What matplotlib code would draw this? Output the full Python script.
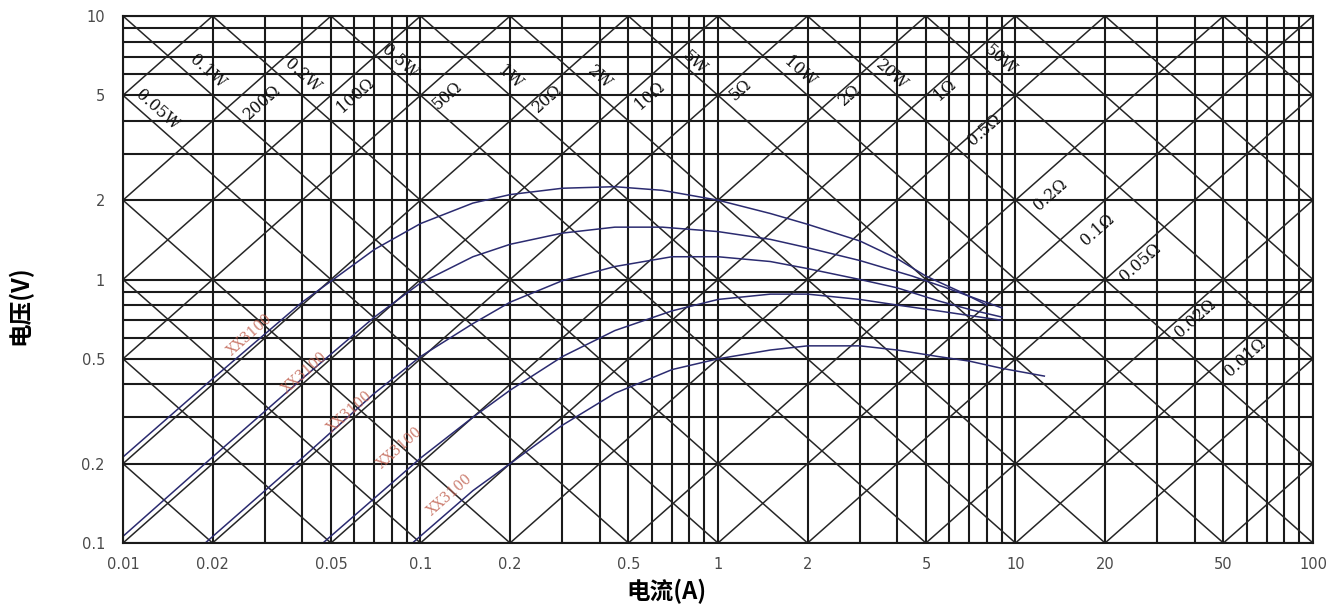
import numpy as np
import matplotlib.pyplot as plt
from matplotlib.ticker import LogLocator, NullFormatter, FixedLocator, FixedFormatter

plt.rcParams['font.family'] = ['Noto Sans CJK SC', 'DejaVu Sans']

# axis ticks
x_ticks = [0.01, 0.02, 0.05, 0.1, 0.2, 0.5, 1, 2, 5, 10, 20, 50, 100]
x_tick_labels = ['0.01', '0.02', '0.05', '0.1', '0.2', '0.5', '1', '2', '5', '10', '20', '50', '100']
y_ticks = [0.1, 0.2, 0.5, 1, 2, 5, 10]
y_tick_labels = ['0.1', '0.2', '0.5', '1', '2', '5', '10']

# constant resistance (V = R*I) and constant power (V = P/I) guide lines
r_values = [0.001, 0.002, 0.005, 0.01, 0.02, 0.05, 0.1, 0.2, 0.5, 1, 2, 5,
            10, 20, 50, 100, 200, 500, 1000]
p_values = [0.001, 0.002, 0.005, 0.01, 0.02, 0.05, 0.1, 0.2, 0.5, 1, 2, 5,
            10, 20, 50, 100, 200, 500, 1000]

# guide line labels (position in A / V)
p_labels = ['0.05W', '0.1W', '0.2W', '0.5W', '1W', '2W', '5W', '10W', '20W', '50W']
p_label_i = [0.0131, 0.0192, 0.0403, 0.0853, 0.200, 0.401, 0.837, 1.89, 3.85, 8.87]
p_label_v = [4.40, 6.13, 5.97, 6.69, 5.82, 5.82, 6.69, 6.13, 5.97, 6.81]

r_labels = ['200Ω', '100Ω', '50Ω', '20Ω', '10Ω', '5Ω', '2Ω', '1Ω', '0.5Ω',
            '0.2Ω', '0.1Ω', '0.05Ω', '0.02Ω', '0.01Ω']
r_label_i = [0.0295, 0.0602, 0.1228, 0.268, 0.591, 1.186, 2.78, 5.79, 7.89,
             13.06, 18.8, 26.2, 40.1, 59.0]
r_label_v = [4.72, 5.01, 5.01, 4.88, 5.01, 5.24, 5.01, 5.24, 3.69,
             2.09, 1.54, 1.165, 0.714, 0.504]

# measured curves
c1_i = [0.01, 0.02, 0.04, 0.07, 0.1, 0.15, 0.2, 0.3, 0.45, 0.65, 1, 1.5, 2, 3, 4, 5, 6.5, 8]
c1_v = [0.212, 0.42, 0.82, 1.3, 1.63, 1.95, 2.1, 2.22, 2.25, 2.18, 2.0, 1.78, 1.62, 1.4, 1.2, 1.03, 0.9, 0.8]

c2_i = [0.01, 0.02, 0.04, 0.07, 0.1, 0.15, 0.2, 0.3, 0.45, 0.65, 1, 1.5, 2, 3, 4.5, 6, 7.5, 9]
c2_v = [0.106, 0.212, 0.42, 0.72, 0.97, 1.22, 1.36, 1.5, 1.58, 1.58, 1.52, 1.42, 1.32, 1.18, 1.03, 0.92, 0.84, 0.78]

c3_i = [0.0189, 0.04, 0.07, 0.1, 0.15, 0.2, 0.3, 0.45, 0.7, 1, 1.5, 2, 3, 4, 5.5, 7, 9]
c3_v = [0.1, 0.21, 0.37, 0.51, 0.68, 0.82, 0.99, 1.12, 1.22, 1.22, 1.17, 1.1, 1.0, 0.93, 0.83, 0.77, 0.72]

c4_i = [0.047, 0.1, 0.15, 0.2, 0.3, 0.45, 0.7, 1, 1.5, 2, 3, 4, 5.5, 7, 9]
c4_v = [0.1, 0.21, 0.3, 0.38, 0.51, 0.64, 0.76, 0.84, 0.88, 0.88, 0.84, 0.8, 0.76, 0.73, 0.7]

c5_i = [0.094, 0.15, 0.2, 0.3, 0.45, 0.7, 1, 1.5, 2, 3, 4, 5.5, 7, 9, 12.5]
c5_v = [0.1, 0.158, 0.2, 0.28, 0.37, 0.455, 0.5, 0.54, 0.56, 0.56, 0.54, 0.51, 0.49, 0.46, 0.43]

curve_label = 'XX3100'
curve_label_i = [0.0267, 0.0409, 0.058, 0.0853, 0.1257]
curve_label_v = [0.615, 0.443, 0.314, 0.230, 0.152]

W, H = 1333, 607
fig = plt.figure(figsize=(W / 100, H / 100), dpi=100)
ax_l, ax_r, ax_t, ax_b = 123, 1313, 16, 543
ax = fig.add_axes([ax_l / W, (H - ax_b) / H, (ax_r - ax_l) / W, (ax_b - ax_t) / H])
ax.set_xscale('log')
ax.set_yscale('log')
ax.set_xlim(0.01, 100)
ax.set_ylim(0.1, 10)

# angle of a slope-1 line in pixels
ang = np.degrees(np.arctan(((ax_b - ax_t) / 2) / ((ax_r - ax_l) / 4)))

ax.xaxis.set_major_locator(FixedLocator(x_ticks))
ax.xaxis.set_major_formatter(FixedFormatter(x_tick_labels))
ax.yaxis.set_major_locator(FixedLocator(y_ticks))
ax.yaxis.set_major_formatter(FixedFormatter(y_tick_labels))
ax.xaxis.set_minor_locator(LogLocator(base=10, subs=np.arange(2, 10)))
ax.yaxis.set_minor_locator(LogLocator(base=10, subs=np.arange(2, 10)))
ax.xaxis.set_minor_formatter(NullFormatter())
ax.yaxis.set_minor_formatter(NullFormatter())
ax.grid(which='both', color='#1a1a1a', lw=1.5)
ax.tick_params(which='both', length=0)
ax.tick_params(axis='x', pad=10)
ax.tick_params(axis='y', pad=13)
for lab in ax.get_xticklabels() + ax.get_yticklabels():
    lab.set_fontfamily('DejaVu Sans')
    lab.set_fontsize(10.5)
    lab.set_color('#4a4a4a')
for s in ax.spines.values():
    s.set_color('#1a1a1a')
    s.set_linewidth(1.5)

xs = np.array([0.01, 100])
for r in r_values:
    ax.plot(xs, r * xs, color='#262626', lw=1.1)
for p in p_values:
    ax.plot(xs, p / xs, color='#262626', lw=1.1)

for t, i, v in zip(p_labels, p_label_i, p_label_v):
    ax.text(i, v, t, rotation=-ang, ha='center', va='center', fontsize=11.5,
            family='DejaVu Serif', color='#111111', rotation_mode='anchor')
for t, i, v in zip(r_labels, r_label_i, r_label_v):
    ax.text(i, v, t, rotation=ang, ha='center', va='center', fontsize=11.5,
            family='DejaVu Serif', color='#111111', rotation_mode='anchor')

for ci, cv in [(c1_i, c1_v), (c2_i, c2_v), (c3_i, c3_v), (c4_i, c4_v), (c5_i, c5_v)]:
    ax.plot(ci, cv, color='#2b2b70', lw=1.1)

for i, v in zip(curve_label_i, curve_label_v):
    ax.text(i, v, curve_label, rotation=ang, ha='center', va='center', fontsize=10,
            family='DejaVu Serif', color='#c0604f', alpha=0.8, rotation_mode='anchor')

fig.text(20 / W, 1 - 305 / H, '电压(V)', rotation=90, ha='center', va='center',
         fontsize=17, fontweight='bold')
fig.text(666 / W, 1 - 591 / H, '电流(A)', ha='center', va='center',
         fontsize=17, fontweight='bold')

fig.savefig('out.png', dpi=100, facecolor='white')
